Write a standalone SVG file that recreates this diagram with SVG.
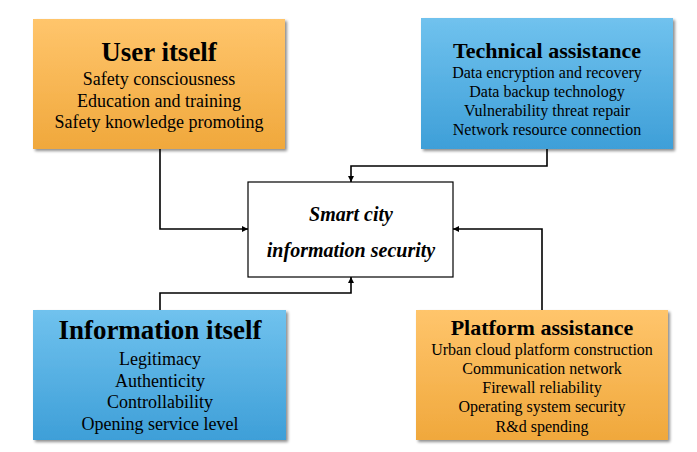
<svg xmlns="http://www.w3.org/2000/svg" width="697" height="452" viewBox="0 0 697 452">
<defs>
<linearGradient id="gOrange" x1="0" y1="0" x2="0" y2="1">
<stop offset="0" stop-color="#FFC56C"/>
<stop offset="1" stop-color="#F0A83C"/>
</linearGradient>
<linearGradient id="gBlue" x1="0" y1="0" x2="0" y2="1">
<stop offset="0" stop-color="#70C2EE"/>
<stop offset="1" stop-color="#3E9FD8"/>
</linearGradient>
<filter id="sh" x="-5%" y="-5%" width="112%" height="115%">
<feGaussianBlur in="SourceAlpha" stdDeviation="1.5"/>
<feOffset dx="1.5" dy="2" result="b"/>
<feComponentTransfer><feFuncA type="linear" slope="0.45"/></feComponentTransfer>
<feMerge><feMergeNode/><feMergeNode in="SourceGraphic"/></feMerge>
</filter>
<marker id="arr" viewBox="0 0 10 10" refX="10" refY="5" markerWidth="6" markerHeight="6" orient="auto" markerUnits="userSpaceOnUse">
<path d="M0,0 L10,5 L0,10 z" fill="#000"/>
</marker>
</defs>
<style>
text{font-family:"Liberation Serif","Times New Roman",serif;fill:#000;text-anchor:middle}
.t{font-weight:bold}
.s18{font-size:18px}
.s16{font-size:16px}
.c{font-weight:bold;font-style:italic;font-size:20px}
.conn{fill:none;stroke:#000;stroke-width:1.6;marker-end:url(#arr)}
</style>
<rect width="697" height="452" fill="#fff"/>
<g id="connectors">
<path class="conn" d="M160,149 V229 H248"/>
<path class="conn" d="M547,149 V166 H351 V182"/>
<path class="conn" d="M160,310 V293 H351 V277"/>
<path class="conn" d="M542,310 V229 H453"/>
</g>
<g id="user">
<rect x="33" y="19" width="252" height="130" fill="url(#gOrange)" filter="url(#sh)"/>
<text class="t" x="159" y="61" font-size="27">User itself</text>
<text class="s18" x="159" y="85">Safety consciousness</text>
<text class="s18" x="159" y="107">Education and training</text>
<text class="s18" x="159" y="128">Safety knowledge promoting</text>
</g>
<g id="technical">
<rect x="421" y="18" width="252" height="131" fill="url(#gBlue)" filter="url(#sh)"/>
<text class="t" x="547" y="58" font-size="22">Technical assistance</text>
<text class="s16" x="547" y="78">Data encryption and recovery</text>
<text class="s16" x="547" y="97">Data backup technology</text>
<text class="s16" x="547" y="116">Vulnerability threat repair</text>
<text class="s16" x="547" y="135">Network resource connection</text>
</g>
<g id="center">
<rect x="248" y="182" width="205" height="95" fill="#fff" stroke="#000" stroke-width="1.2"/>
<text class="c" x="351" y="221">Smart city</text>
<text class="c" x="351" y="257">information security</text>
</g>
<g id="information">
<rect x="33" y="310" width="253" height="130" fill="url(#gBlue)" filter="url(#sh)"/>
<text class="t" x="160" y="339" font-size="27">Information itself</text>
<text class="s18" x="160" y="365">Legitimacy</text>
<text class="s18" x="160" y="387">Authenticity</text>
<text class="s18" x="160" y="408">Controllability</text>
<text class="s18" x="160" y="430">Opening service level</text>
</g>
<g id="platform">
<rect x="416" y="310" width="252" height="130" fill="url(#gOrange)" filter="url(#sh)"/>
<text class="t" x="542" y="335" font-size="22">Platform assistance</text>
<text class="s16" x="542" y="355">Urban cloud platform construction</text>
<text class="s16" x="542" y="374">Communication network</text>
<text class="s16" x="542" y="393">Firewall reliability</text>
<text class="s16" x="542" y="412">Operating system security</text>
<text class="s16" x="542" y="432">R&amp;d spending</text>
</g>
</svg>
